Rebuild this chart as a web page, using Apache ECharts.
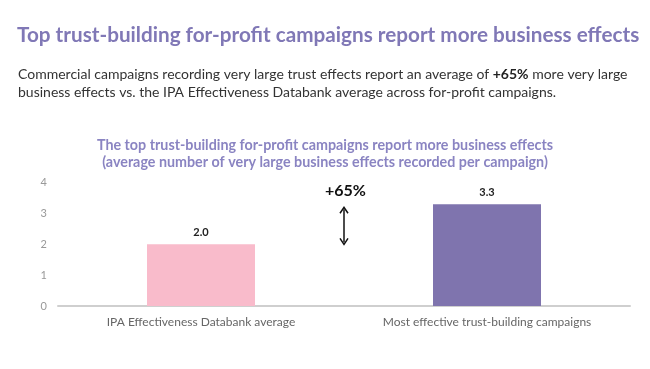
<!DOCTYPE html>
<html><head><meta charset="utf-8">
<script src="https://cdn.jsdelivr.net/npm/echarts@6/dist/echarts.min.js"></script>
<style>html,body{margin:0;padding:0;background:#fff}#c{width:650px;height:369px}</style>
</head><body><div id="c"></div>
<script>
const categories = ['IPA Effectiveness Databank average', 'Most effective trust-building campaigns'];
const values = [2.0, 3.3];
const valueLabels = ['2.0', '3.3'];
const barColors = ['#F9BBCB', '#7F74AE'];
const yTicks = [0, 1, 2, 3, 4];
const upliftText = '+65%';
const arrowRange = [2.0, 3.2];

const chart = echarts.init(document.getElementById('c'), null, {renderer: 'canvas'});
const FONT = 'Lato';
const option = {
  animation: false,
  title: [
    {text: 'Top trust-building for-profit campaigns report more business effects', left: 12, top: 20,
     textStyle: {fontFamily: FONT, fontSize: 20.7, fontWeight: 'bold', color: '#8078B6'}},
    {text: 'Commercial campaigns recording very large trust effects report an average of {b|+65%} more very large\nbusiness effects vs. the IPA Effectiveness Databank average across for-profit campaigns.',
     left: 13, top: 61,
     textStyle: {fontFamily: FONT, fontSize: 14, fontWeight: 'normal', color: '#333', lineHeight: 17.5,
       rich: {b: {fontFamily: FONT, fontSize: 14, fontWeight: 'bold', color: '#222'}}}},
    {text: 'The top trust-building for-profit campaigns report more business effects\n(average number of very large business effects recorded per campaign)',
     left: 'center', top: 132,
     textStyle: {fontFamily: FONT, fontSize: 14.3, fontWeight: 'bold', color: '#8A84C2', lineHeight: 17, align: 'center'}}
  ],
  grid: {left: 58, right: 20, top: 182.6, bottom: 63, containLabel: false},
  xAxis: {
    type: 'category', data: categories,
    axisLine: {lineStyle: {color: '#CFCFCF', width: 2}},
    axisTick: {show: false},
    axisLabel: {fontFamily: FONT, fontSize: 12, color: '#666', margin: 10}
  },
  yAxis: {
    type: 'value', min: 0, max: 4, interval: 1,
    splitLine: {show: false}, axisLine: {show: false}, axisTick: {show: false},
    axisLabel: {fontFamily: FONT, fontSize: 11, color: '#999', margin: 11,
      formatter: v => yTicks.includes(v) ? String(v) : ''}
  },
  series: [{
    type: 'bar', barWidth: 108,
    data: values.map((v, i) => ({value: v, itemStyle: {color: barColors[i]}})),
    label: {show: true, position: 'top', distance: 6, fontFamily: FONT, fontSize: 11, fontWeight: 'bold', color: '#222',
      formatter: p => valueLabels[p.dataIndex]}
  }]
};
chart.setOption(option);

const xMid = (58 + 630) / 2;
const yTop = chart.convertToPixel({yAxisIndex: 0}, arrowRange[1]);
const yBot = chart.convertToPixel({yAxisIndex: 0}, arrowRange[0]);
chart.setOption({
  graphic: [
    {type: 'text', left: xMid - 19, top: yTop - 24,
     style: {text: upliftText, fontFamily: FONT, fontSize: 16, fontWeight: 'bold', fill: '#111'}},
    {type: 'line', shape: {x1: xMid, y1: yTop + 2, x2: xMid, y2: yBot - 2}, style: {stroke: '#111', lineWidth: 1.5}},
    {type: 'polyline', shape: {points: [[xMid - 4, yTop + 6], [xMid, yTop], [xMid + 4, yTop + 6]]}, style: {stroke: '#111', lineWidth: 1.5, fill: null}},
    {type: 'polyline', shape: {points: [[xMid - 4, yBot - 6], [xMid, yBot], [xMid + 4, yBot - 6]]}, style: {stroke: '#111', lineWidth: 1.5, fill: null}}
  ]
});
</script></body></html>
